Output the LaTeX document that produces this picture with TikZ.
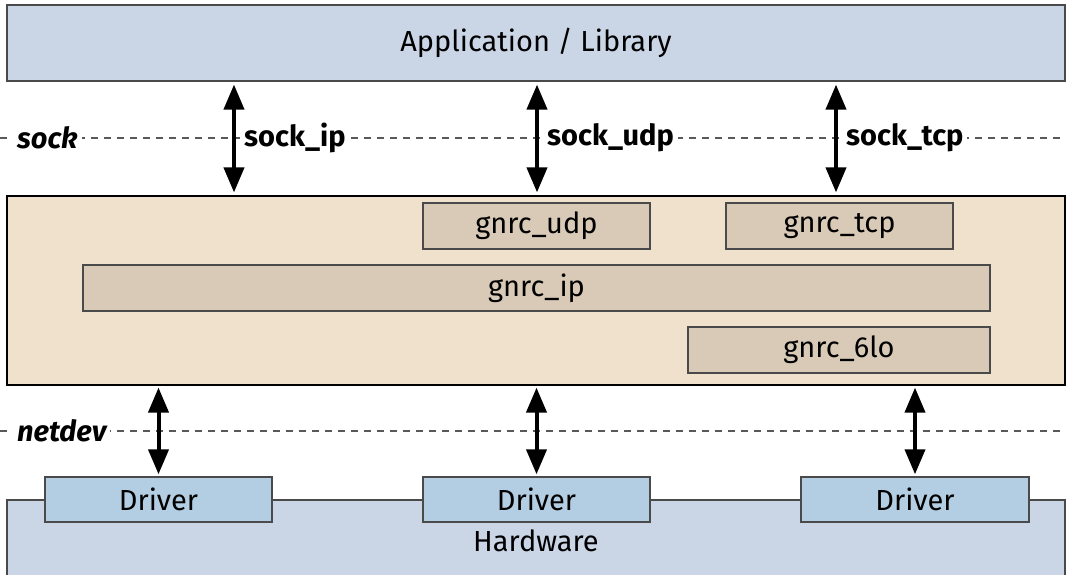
\documentclass[tikz,border=0pt]{standalone}
\usepackage{fontspec}
\setmainfont{Fira Sans}
\usetikzlibrary{arrows.meta,positioning}
\definecolor{appblue}{HTML}{CAD5E6}
\definecolor{stackbeige}{HTML}{F0E1CC}
\definecolor{gnrcbrown}{HTML}{D9CAB7}
\definecolor{drvblue}{HTML}{B3CDE2}
\definecolor{edgegray}{HTML}{4A4A4A}

\begin{document}
\begin{tikzpicture}[x=1pt,y=-1pt,
font=\fontsize{29}{34}\selectfont,
layer/.style={draw=edgegray,line width=1.2pt,fill=appblue,inner sep=0pt},
gnrcbox/.style={draw=edgegray,line width=1.4pt,fill=gnrcbrown,inner sep=0pt,minimum height=46},
drvbox/.style={draw=edgegray,line width=1.4pt,fill=drvblue,inner sep=0pt,minimum width=227,minimum height=45},
apiline/.style={draw=black!65,line width=1.2pt,dash pattern=on 7pt off 6pt},
apilabel/.style={fill=white,inner sep=4pt,font=\fontsize{29}{34}\selectfont\bfseries},
twoway/.style={{Triangle[width=20pt,length=25pt]}-{Triangle[width=20pt,length=25pt]},line width=4pt,shorten >=3pt,shorten <=3pt}]
    \useasboundingbox (0,0) rectangle (1066,575);

    % layers
    \node[layer,minimum width=1058,minimum height=76] (app) at (536,43) {Application / Library};
    \node[layer,fill=stackbeige,draw=black,minimum width=1058,minimum height=189] (stack) at (536,290.5) {};
    \node[layer,minimum width=1058,minimum height=80] (hw) at (536,540) {};
    \node at (536,541) (hwtext) {Hardware};

    % gnrc modules
    \node[gnrcbox,minimum width=227] (udp) at (536.5,226) {gnrc\_udp};
    \node[gnrcbox,minimum width=227] (tcp) at (839.5,226) {gnrc\_tcp};
    \node[gnrcbox,minimum width=907] (ip) at (536.5,288) {gnrc\_ip};
    \node[gnrcbox,minimum width=302] (sixlo) at (839,350) {gnrc\_6lo};

    % drivers
    \node[drvbox] (drvA) at (158.5,499.5) {Driver};
    \node[drvbox] (drvB) at (536.5,499.5) {Driver};
    \node[drvbox,minimum width=228] (drvC) at (915,499.5) {Driver};

    % api lines
    \coordinate (sockL) at (0,138);
    \coordinate (sockR) at (1066,138);
    \coordinate (netL) at (0,431);
    \coordinate (netR) at (1066,431);
    \draw[apiline] (sockL) -- (sockR);
    \draw[apiline] (netL) -- (netR);
    \node[apilabel,anchor=west,font=\fontsize{29}{34}\selectfont\bfseries\itshape] (sock) at (13,138) {sock};
    \node[apilabel,anchor=west,font=\fontsize{29}{34}\selectfont\bfseries\itshape] (netdev) at (13,431) {netdev};

    % sock arrows
    \coordinate (ipx) at (234,0);
    \coordinate (udpx) at (537,0);
    \coordinate (tcpx) at (836,0);
    \draw[twoway] (app.south -| ipx) -- (stack.north -| ipx);
    \draw[twoway] (app.south -| udpx) -- (stack.north -| udpx);
    \draw[twoway] (app.south -| tcpx) -- (stack.north -| tcpx);
    \node[apilabel,anchor=west] (sockip) at (240,138) {sock\_ip};
    \node[apilabel,anchor=west] (sockudp) at (543,138) {sock\_udp};
    \node[apilabel,anchor=west] (socktcp) at (842,138) {sock\_tcp};

    % netdev arrows
    \draw[twoway,shorten <=2pt,shorten >=2pt] (stack.south -| drvA) -- (drvA);
    \draw[twoway,shorten <=2pt,shorten >=2pt] (stack.south -| drvB) -- (drvB);
    \draw[twoway,shorten <=2pt,shorten >=2pt] (stack.south -| drvC) -- (drvC);
\end{tikzpicture}
\end{document}
